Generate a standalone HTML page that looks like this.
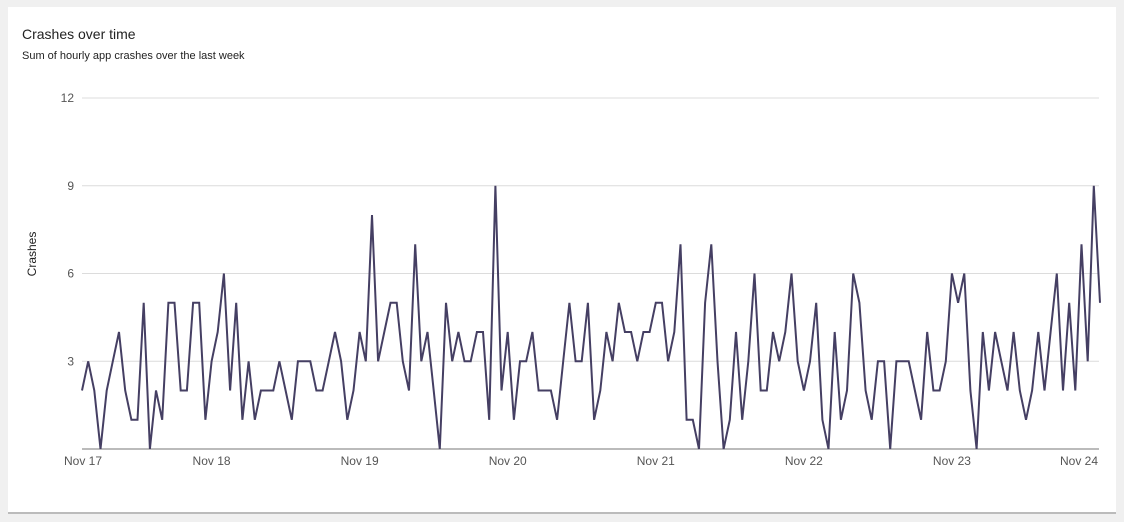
<!DOCTYPE html>
<html><head><meta charset="utf-8"><style>
body{margin:0;background:#f0f0f0;width:1124px;height:522px;overflow:hidden;font-family:"Liberation Sans",Arial,sans-serif}
#card{position:absolute;left:8px;top:7px;width:1108px;height:505px;background:#fff;border-bottom:2px solid #bbb}
#title{position:absolute;left:14px;top:19px;font-size:14px;color:#222}
#sub{position:absolute;left:14px;top:43px;font-size:11px;color:#222}
svg{position:absolute;left:0;top:0}
</style></head><body>
<div id="card">
<div id="title">Crashes over time</div>
<div id="sub">Sum of hourly app crashes over the last week</div>
</div>
<svg id="chart" width="1124" height="522"></svg>
<script>
const crashes=[2,3,2,0,2,3,4,2,1,1,5,0,2,1,5,5,2,2,5,5,1,3,4,6,2,5,1,3,1,
2,2,2,3,2,1,3,3,3,2,2,3,4,3,1,2,4,3,8,3,4,5,5,3,2,7,3,4,
2,0,5,3,4,3,3,4,4,1,9,2,4,1,3,3,4,2,2,2,1,3,5,3,3,5,1,
2,4,3,5,4,4,3,4,4,5,5,3,4,7,1,1,0,5,7,3,0,1,4,1,3,6,2,2,
4,3,4,6,3,2,3,5,1,0,4,1,2,6,5,2,1,3,3,0,3,3,3,2,1,4,2,
2,3,6,5,6,2,0,4,2,4,3,2,4,2,1,2,4,2,4,6,2,5,2,7,3,9,5];
const yTicks=[3,6,9,12];
const dayLabels=["Nov 17","Nov 18","Nov 19","Nov 20","Nov 21","Nov 22","Nov 23","Nov 24"];
const firstMidnightIndex=-3;
const NS="http://www.w3.org/2000/svg";
const svg=document.getElementById('chart');
const x0=82,x1=1100,yTop=98,yBot=449,yMax=12;
const n=crashes.length;
const xs=i=>x0+(x1-x0)*i/(n-1);
const ys=v=>yBot-(yBot-yTop)*v/yMax;
function mk(t,a){const e=document.createElementNS(NS,t);for(const k in a)e.setAttribute(k,a[k]);svg.appendChild(e);return e;}
yTicks.forEach(v=>{
 const l=mk('line',{x1:x0,x2:1099,y1:ys(v),y2:ys(v),stroke:'#dcdcdc','stroke-width':1});
 
 
 const t=mk('text',{x:74,y:ys(v)+4,'text-anchor':'end','font-size':12,fill:'#555','font-family':'Liberation Sans, sans-serif'});
 t.textContent=v;
 
 
});
const ax=mk('line',{x1:x0,x2:1099,y1:yBot,y2:yBot,stroke:'#777','stroke-width':1});


dayLabels.forEach((d,k)=>{
 let cx=xs(firstMidnightIndex+24*k);
 const w=42;
 cx=Math.max(62+w/2,Math.min(1100-w/2,cx));
 const t=mk('text',{x:cx,y:465,'text-anchor':'middle','font-size':12,fill:'#555','font-family':'Liberation Sans, sans-serif'});
 t.textContent=d;
 
 
});
const yt=mk('text',{x:0,y:0,transform:'translate(36,254) rotate(-90)','text-anchor':'middle','font-size':12,fill:'#222','font-family':'Liberation Sans, sans-serif'});
yt.textContent='Crashes';


const p=mk('polyline',{points:crashes.map((v,i)=>xs(i).toFixed(1)+','+ys(v).toFixed(1)).join(' '),fill:'none',stroke:'#453f63','stroke-width':2,'stroke-linejoin':'miter'});


</script>
</body></html>
